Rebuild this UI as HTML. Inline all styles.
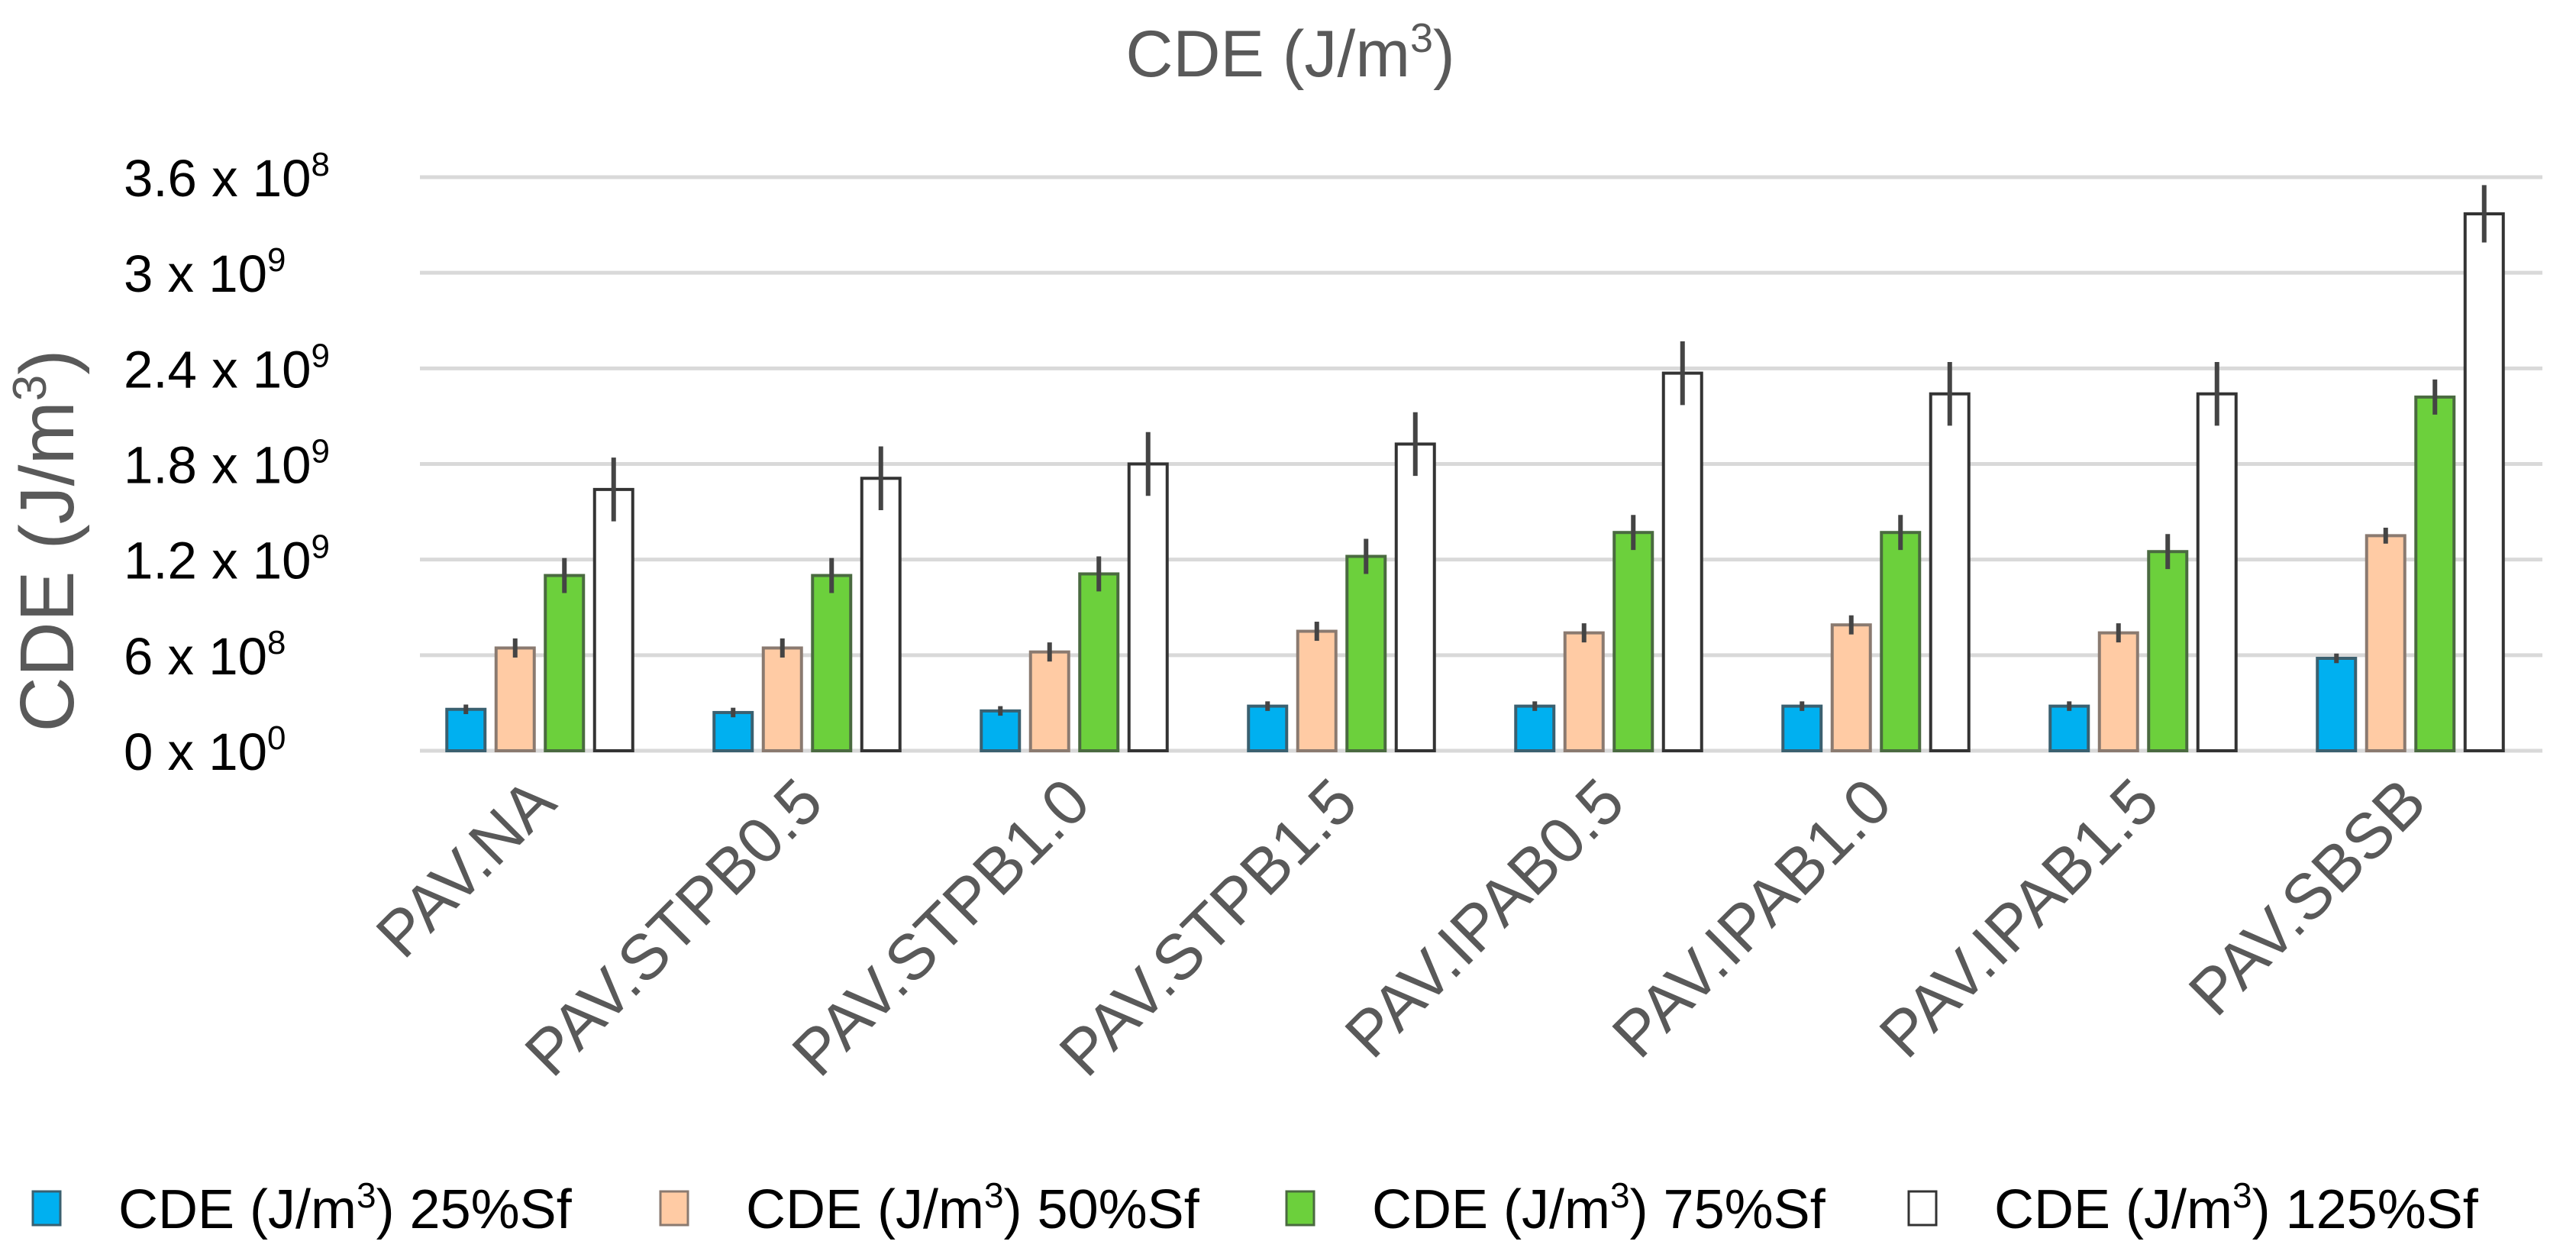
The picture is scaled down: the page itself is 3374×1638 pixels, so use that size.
<!DOCTYPE html>
<html><head><meta charset="utf-8"><style>
html,body{margin:0;padding:0;background:#fff;}
svg{display:block;font-family:"Liberation Sans",sans-serif;}
</style></head><body>
<svg id="chart" width="3374" height="1638" viewBox="0 0 3374 1638" xmlns="http://www.w3.org/2000/svg">
<rect width="3374" height="1638" fill="#fff"/>
<text x="1690" y="100" font-size="86" fill="#595959" text-anchor="middle">CDE (J/m<tspan font-size="54" dy="-32">3</tspan><tspan dy="32">)</tspan></text>
<text transform="translate(96,708) rotate(-90)" font-size="100" fill="#595959" text-anchor="middle">CDE (J/m<tspan font-size="62" dy="-36">3</tspan><tspan dy="36">)</tspan></text>
<g id="grid"></g><g id="yticks"></g><g id="bars"></g><g id="xlabels"></g><g id="legend"></g>
</svg>
<script>
const categories = ["PAV.NA","PAV.STPB0.5","PAV.STPB1.0","PAV.STPB1.5","PAV.IPAB0.5","PAV.IPAB1.0","PAV.IPAB1.5","PAV.SBSB"];
const s25 = [0.26,0.24,0.25,0.28,0.28,0.28,0.28,0.58];
const s50 = [0.645,0.645,0.62,0.75,0.74,0.79,0.74,1.35];
const s75 = [1.10,1.10,1.11,1.22,1.37,1.37,1.25,2.22];
const s125 = [1.64,1.71,1.80,1.925,2.37,2.24,2.24,3.37];
const e25 = [0.03,0.03,0.03,0.03,0.03,0.03,0.03,0.03];
const e50 = [0.06,0.06,0.06,0.06,0.06,0.06,0.06,0.05];
const e75 = [0.11,0.11,0.11,0.11,0.11,0.11,0.11,0.11];
const e125 = [0.20,0.20,0.20,0.20,0.20,0.20,0.20,0.18];
const tickValues = [0,0.6,1.2,1.8,2.4,3.0,3.6];
const tickMantissa = ["0","6","1.2","1.8","2.4","3","3.6"];
const tickExp = ["0","8","9","9","9","9","8"];
const seriesNames = ["25%Sf","50%Sf","75%Sf","125%Sf"];

const NS="http://www.w3.org/2000/svg";
const y0=983, yTop=232, plotL=550, plotR=3330;
const y=v=>y0-(v/3.6)*(y0-yTop);
const groupC=i=>707+350*i;
const barW=50, pitch=64.5;
const fills=["#00b0f0","#ffcba4","#6cd03c","#ffffff"];
const strokes=["#3a6070","#8a7a70","#4a6a40","#333333"];
const series=[s25,s50,s75,s125], errs=[e25,e50,e75,e125];
function mk(tag,attrs,parent){const e=document.createElementNS(NS,tag);for(const k in attrs)e.setAttribute(k,attrs[k]);parent.appendChild(e);return e;}
const grid=document.getElementById('grid'), yt=document.getElementById('yticks');
tickValues.forEach((v,i)=>{
  const l=mk('line',{x1:plotL,x2:plotR,y1:y(v),y2:y(v),stroke:'#d9d9d9','stroke-width':5},grid);
  
  
  const t=mk('text',{x:162,y:y(v)+25,'font-size':69,fill:'#000'},yt);
  
  
  t.textContent=tickMantissa[i]+" x 10";
  const s=mk('tspan',{'font-size':44,dy:-27},t); s.textContent=tickExp[i];
});
const bars=document.getElementById('bars');
categories.forEach((c,i)=>{
  series.forEach((s,k)=>{
    const cx=groupC(i)+(k-1.5)*pitch;
    const r=mk('rect',{x:cx-barW/2,y:y(s[i]),width:barW,height:y0-y(s[i]),fill:fills[k],stroke:strokes[k],'stroke-width':4},bars);
    
    
    const e=mk('line',{x1:cx,x2:cx,y1:y(s[i]+errs[k][i]),y2:y(s[i]-errs[k][i]),stroke:'#444','stroke-width':6},bars);
    
    
  });
  const t=mk('text',{transform:`translate(${groupC(i)+25},1055) rotate(-45)`,'font-size':84,fill:'#595959','text-anchor':'end'},document.getElementById('xlabels'));
  
  
  t.textContent=c;
});
const lg=document.getElementById('legend');
const lx=[43,865,1685,2500];
seriesNames.forEach((n,k)=>{
  const r=mk('rect',{x:lx[k],y:1560,width:36,height:44,fill:fills[k],stroke:strokes[k],'stroke-width':3},lg);
  
  
  const t=mk('text',{x:lx[k]+112,y:1608,'font-size':72,fill:'#000'},lg);
  
  
  t.textContent="CDE (J/m";
  const a=mk('tspan',{'font-size':46,dy:-27},t); a.textContent="3";
  const b=mk('tspan',{dy:27},t); b.textContent=") "+n;
});
</script>
</body></html>
